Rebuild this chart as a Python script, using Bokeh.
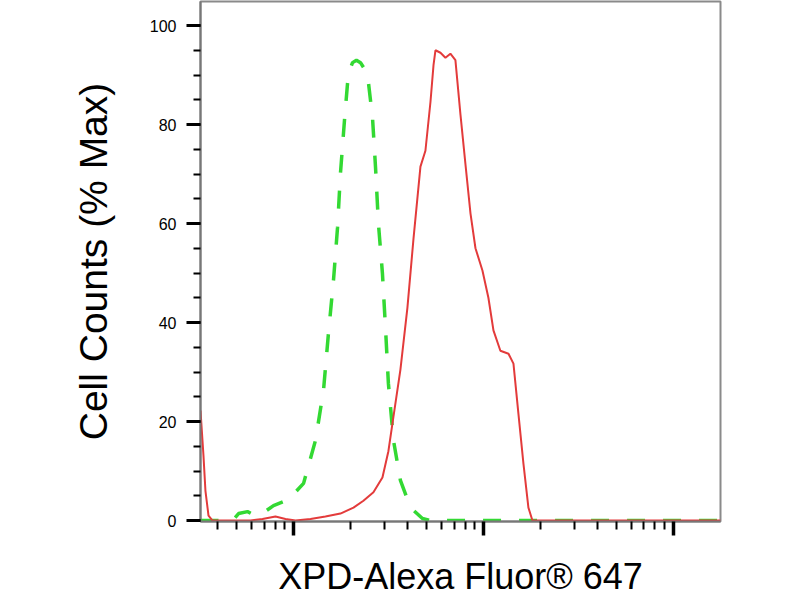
from bokeh.embed import file_html
from bokeh.models import FixedTicker, SingleIntervalTicker
from bokeh.plotting import figure
from bokeh.resources import INLINE

# control (isotype) histogram, dashed green
green_x = [32.4, 47.8, 51.4, 57.3, 63.1, 69.0, 78.5, 94.1, 113, 130.6, 143.9,
           152.8, 162.4, 170.6, 176.7, 185.5, 194.5, 204.6, 214.6, 225.4, 245,
           260.6, 270.4, 280, 294, 305, 316, 336, 365.6, 413, 477.5, 526, 17700]
green_y = [0, 0, 1.4, 1.8, 1.0, 1.5, 3.0, 4.2, 7.5, 16.2, 26.3,
           37.8, 48.5, 59.2, 70.1, 80.8, 90.3, 92.5, 93, 92.5, 90.3,
           81.4, 71.3, 60, 49.9, 39, 27.7, 16.2, 8.1, 2.6, 0.4, 0, 0]

# XPD stained cells, solid red
red_x = [32.4, 33.6, 34.4, 35.7, 37.5, 59.4, 68.7, 80.4, 90.8, 102.5, 122.9,
         147.3, 176.7, 207, 233.5, 263.6, 294, 316, 336, 365.6, 398, 428.5,
         466, 495, 526, 546, 559, 594, 631, 670, 712, 757, 804, 855, 908,
         988, 1062, 1129, 1228, 1355, 1439, 1528, 1624, 1725, 1811, 17700]
red_y = [22.2, 13, 6, 1, 0, 0, 0.3, 0.8, 0.3, 0, 0.3,
         0.8, 1.4, 2.6, 4, 5.7, 8.7, 14, 21, 30.5, 43, 57,
         71.5, 74.7, 84.5, 92, 95, 94.5, 93.5, 94.3, 93, 82, 72, 62, 55,
         50.5, 45, 38.4, 34.3, 33.7, 31.7, 21.6, 11.5, 2.6, 0, 0]

x_decades = [100, 1000, 10000]

FONT = "Liberation Sans"

p = figure(x_axis_type="log",
           x_range=(32.4, 17700),
           y_range=(-0.2, 104.85),
           frame_width=520,
           frame_height=520,
           min_border_left=200,
           min_border_right=70,
           min_border_top=1,
           min_border_bottom=79,
           output_backend="svg",
           toolbar_location=None)

p.grid.visible = False
p.background_fill_color = "white"
p.border_fill_color = "white"
p.outline_line_color = "#8a8a8a"
p.outline_line_width = 2

p.line(green_x, green_y, color="#33d933", line_width=3.5, line_dash="18 18")
p.line(red_x, red_y, color="#e33b3b", line_width=2)

# y axis
p.yaxis.ticker = SingleIntervalTicker(interval=20, num_minor_ticks=4)
p.yaxis.axis_line_color = "#777777"
p.yaxis.axis_line_width = 2
p.yaxis.major_tick_in = 0
p.yaxis.major_tick_out = 14
p.yaxis.major_tick_line_width = 3
p.yaxis.major_tick_line_color = "black"
p.yaxis.minor_tick_in = 0
p.yaxis.minor_tick_out = 7
p.yaxis.minor_tick_line_width = 2
p.yaxis.minor_tick_line_color = "black"
p.yaxis.major_label_text_font = FONT
p.yaxis.major_label_text_font_size = "16px"
p.yaxis.major_label_text_color = "black"
p.yaxis.major_label_standoff = 10
p.yaxis.axis_label = "Cell Counts (% Max)"
p.yaxis.axis_label_text_font = FONT
p.yaxis.axis_label_text_font_size = "39px"
p.yaxis.axis_label_text_font_style = "normal"
p.yaxis.axis_label_text_color = "black"
p.yaxis.axis_label_standoff = 32

# x axis: log decades, labels hidden
minor = [m * d // 10 for d in x_decades + [100000] for m in range(2, 10)]
p.xaxis.ticker = FixedTicker(ticks=x_decades, minor_ticks=minor)
p.xaxis.axis_line_color = "#777777"
p.xaxis.axis_line_width = 2
p.xaxis.major_tick_in = 0
p.xaxis.major_tick_out = 14
p.xaxis.major_tick_line_width = 3.5
p.xaxis.major_tick_line_color = "black"
p.xaxis.minor_tick_in = 0
p.xaxis.minor_tick_out = 8
p.xaxis.minor_tick_line_width = 2
p.xaxis.minor_tick_line_color = "black"
p.xaxis.major_label_text_font_size = "1px"
p.xaxis.major_label_text_alpha = 0
p.xaxis.major_label_standoff = 0
p.xaxis.axis_label = "XPD-Alexa Fluor® 647"
p.xaxis.axis_label_text_font = FONT
p.xaxis.axis_label_text_font_size = "36px"
p.xaxis.axis_label_text_font_style = "normal"
p.xaxis.axis_label_text_color = "black"
p.xaxis.axis_label_standoff = 20

open("out.html", "w").write(file_html(p, INLINE))
